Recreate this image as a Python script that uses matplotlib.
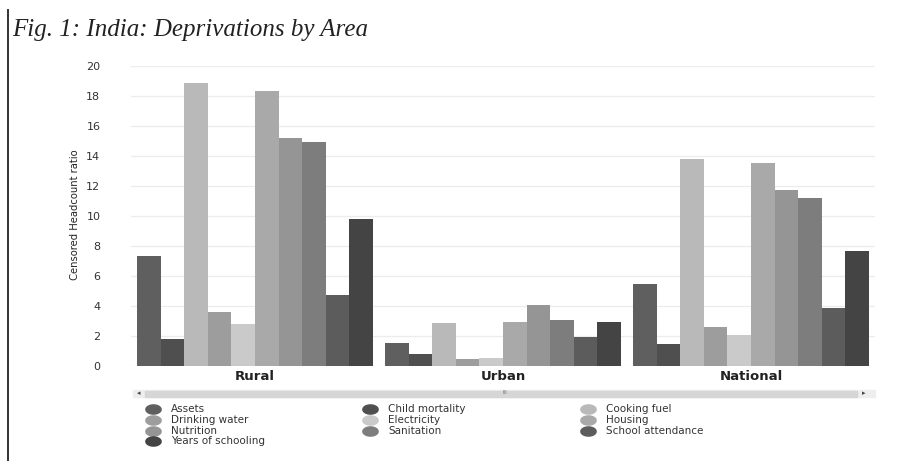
import numpy as np
import matplotlib
matplotlib.use('Agg')
import matplotlib.pyplot as plt
from matplotlib.patches import Rectangle
from matplotlib.lines import Line2D
from matplotlib.path import Path

# Censored headcount ratios by area
areas = ['Rural', 'Urban', 'National']
indicators = ['Assets', 'Child mortality', 'Cooking fuel', 'Drinking water',
              'Electricity', 'Housing', 'Nutrition', 'Sanitation',
              'School attendance', 'Years of schooling']
rural = [7.35, 1.8, 18.85, 3.6, 2.78, 18.35, 15.18, 14.93, 4.76, 9.8]
urban = [1.55, 0.78, 2.85, 0.49, 0.55, 2.95, 4.07, 3.1, 1.96, 2.95]
national = [5.5, 1.49, 13.8, 2.62, 2.07, 13.56, 11.73, 11.22, 3.9, 7.66]
shades = ['#5f5f5f', '#4f4f4f', '#b9b9b9', '#9d9d9d', '#cacaca',
          '#a9a9a9', '#959595', '#7d7d7d', '#5c5c5c', '#444444']
yticks = [0, 2, 4, 6, 8, 10, 12, 14, 16, 18, 20]

values = np.array([rural, urban, national])

W, H = 919, 461
fig = plt.figure(figsize=(W / 100, H / 100), dpi=100)
ax = fig.add_axes([131 / W, 1 - 366 / H, 744 / W, 300 / H])

x = np.arange(len(areas))
nb = len(indicators)
bw = 0.95 / nb
for i, name in enumerate(indicators):
    ax.bar(x - 0.475 + bw * (i + 0.5), values[:, i], width=bw,
           color=shades[i], label=name, zorder=2, linewidth=0)

ax.set_xlim(-0.5, 2.5)
ax.set_ylim(0, 20)
ax.set_yticks(yticks)
ax.set_yticklabels([str(t) for t in yticks], fontsize=8, color='#333333')
ax.set_xticks(x)
ax.set_xticklabels(areas, fontsize=9.5, color='#222222', fontweight='bold')
ax.tick_params(axis='y', length=0, pad=22)
ax.tick_params(axis='x', length=0, pad=3)
ax.grid(axis='y', color='#ececec', linewidth=0.9, zorder=0)
for s in ax.spines.values():
    s.set_visible(False)

fig.text(75 / W, 1 - 215 / H, 'Censored Headcount ratio', rotation=90,
         ha='center', va='center', fontsize=8, fontstretch='condensed',
         color='#222222')

fig.text(12 / W, 1 - 30 / H, 'Fig. 1: India: Deprivations by Area',
         family='Liberation Serif', style='italic', fontsize=18,
         ha='left', va='center', color='#222222')

# left border rule
fig.add_artist(Line2D([8 / W, 8 / W], [0, 1 - 10 / H], color='#333333',
                      linewidth=1.4))

# scroll bar under the plot
fig.add_artist(Rectangle((133 / W, 1 - 397 / H), 742 / W, 7 / H,
                         color='#eeeeee', transform=fig.transFigure))
fig.add_artist(Rectangle((145 / W, 1 - 396.5 / H), 712 / W, 6 / H,
                         color='#d6d6d6', transform=fig.transFigure))
fig.text(139 / W, 1 - 393.5 / H, '\u25c2', fontsize=5, color='#444444',
         ha='center', va='center')
fig.text(864 / W, 1 - 393.5 / H, '\u25b8', fontsize=5, color='#444444',
         ha='center', va='center')
fig.text(505 / W, 1 - 393 / H, 'III', fontsize=4, color='#777777',
         ha='center', va='center')

# flat oval legend swatch
t = np.linspace(0, 2 * np.pi, 40)
oval = Path(np.column_stack([np.cos(t), 0.6 * np.sin(t)]))

# legend, three per row
col_x = [153, 370, 588]
row_y = [409, 420, 431, 441]
for i, name in enumerate(indicators):
    r, c = divmod(i, 3)
    px, py = col_x[c] / W, 1 - row_y[r] / H
    fig.add_artist(Line2D([px], [py], marker=oval, markersize=11,
                          markerfacecolor=shades[i], markeredgecolor=shades[i],
                          linestyle='none'))
    fig.text(px + 18 / W, py, name, fontsize=7.5, color='#333333',
             ha='left', va='center')

fig.savefig('out.png', dpi=100)
